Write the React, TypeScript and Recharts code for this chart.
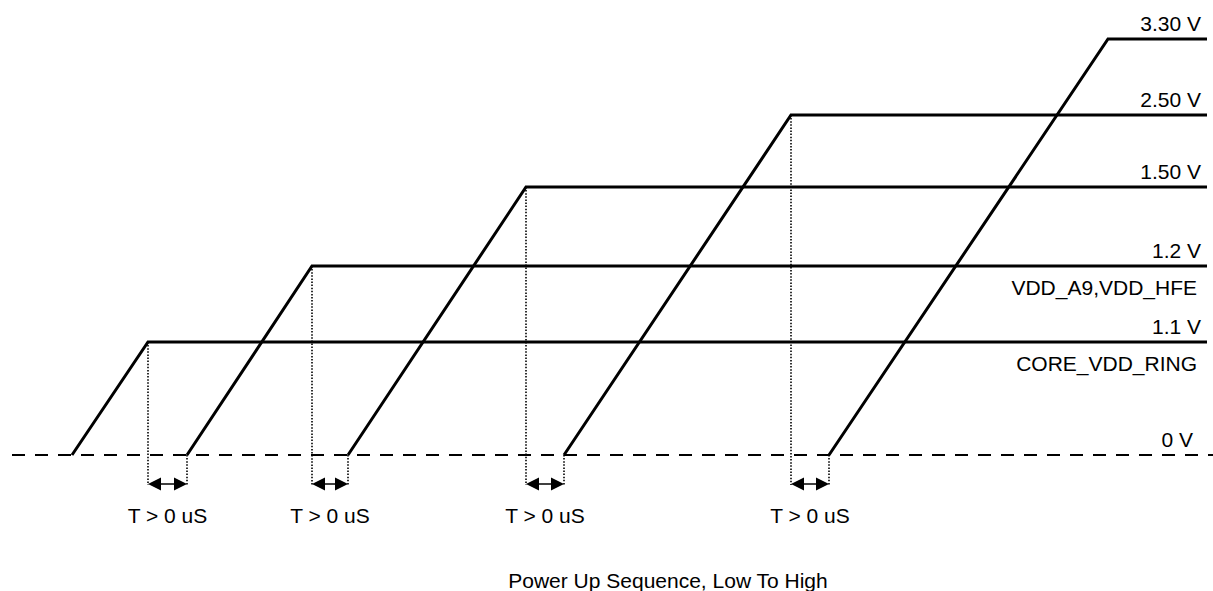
import React from 'react';
import { ComposedChart, Line, XAxis, YAxis, ReferenceLine, ReferenceDot } from 'recharts';

// Power rails, in power-up order (time axis in arbitrary units, level = height above 0 V trace)
const railVoltages = ['1.1 V', '1.2 V', '1.50 V', '2.50 V', '3.30 V'];
const railNames = ['CORE_VDD_RING', 'VDD_A9,VDD_HFE', '', '', ''];
const rampStart = [72, 187, 348, 564, 829];
const rampEnd = [148, 312, 526, 791, 1108];
const railLevel = [113, 189, 268, 340, 416];
const traceEnd = 1207;
const baselineStart = 12;
const baselineLabel = '0 V';
const timingLabels = ['T > 0 uS', 'T > 0 uS', 'T > 0 uS', 'T > 0 uS'];
const title = 'Power Up Sequence, Low To High';

const W = 1213;
const H = 591;
const FONT = '"Liberation Sans", Arial, Helvetica, sans-serif';
const FS = 21;

const railData = railLevel.map((lvl, i) => [
  { t: rampStart[i], v: 0 },
  { t: rampEnd[i], v: lvl },
  { t: traceEnd, v: lvl },
]);

const textShape = (txt: string, anchor: 'start' | 'middle' | 'end') => (p: any) => (
  <text
    x={p.cx}
    y={p.cy}
    textAnchor={anchor}
    dominantBaseline="central"
    fontFamily={FONT}
    fontSize={FS}
    fill="#000"
  >
    {txt}
  </text>
);

const arrowShape = (p: any) => {
  const { x1, y1, x2, y2 } = p;
  const hl = 13;
  const hh = 6.5;
  return (
    <g>
      <line x1={x1 + hl - 1} y1={y1} x2={x2 - hl + 1} y2={y2} stroke="#000" strokeWidth={1.5} />
      <polygon points={`${x1},${y1} ${x1 + hl},${y1 - hh} ${x1 + hl},${y1 + hh}`} fill="#000" />
      <polygon points={`${x2},${y2} ${x2 - hl},${y2 - hh} ${x2 - hl},${y2 + hh}`} fill="#000" />
    </g>
  );
};

export default function App() {
  const labelRight = traceEnd - 6;
  return (
    <div style={{ position: 'absolute', left: 0, top: 0, width: W, height: H, background: '#fff' }}>
      <ComposedChart width={W} height={H} margin={{ top: 0, right: 0, bottom: 0, left: 0 }}>
        <XAxis type="number" dataKey="t" domain={[0, W]} hide allowDataOverflow />
        <YAxis type="number" dataKey="v" domain={[455 - H, 455]} hide allowDataOverflow />

        {/* 0 V dashed baseline */}
        <ReferenceLine
          segment={[{ x: baselineStart, y: 0 }, { x: W, y: 0 }]}
          stroke="#000"
          strokeWidth={2}
          strokeDasharray="13 10"
          ifOverflow="visible"
        />

        {/* dotted timing guides */}
        {rampEnd.slice(0, 4).map((x, i) => (
          <ReferenceLine
            key={`dt${i}`}
            segment={[{ x, y: railLevel[i] }, { x, y: -30 }]}
            stroke="#000"
            strokeWidth={1.6}
            strokeDasharray="1.5 1.6"
            ifOverflow="visible"
          />
        ))}
        {rampStart.slice(1).map((x, i) => (
          <ReferenceLine
            key={`ds${i}`}
            segment={[{ x, y: 0 }, { x, y: -30 }]}
            stroke="#000"
            strokeWidth={1.6}
            strokeDasharray="1.5 1.6"
            ifOverflow="visible"
          />
        ))}

        {/* double-headed arrows */}
        {timingLabels.map((_, i) => (
          <ReferenceLine
            key={`ar${i}`}
            segment={[{ x: rampEnd[i], y: -29 }, { x: rampStart[i + 1], y: -29 }]}
            shape={arrowShape}
            ifOverflow="visible"
          />
        ))}

        {/* rail traces */}
        {railData.map((d, i) => (
          <Line
            key={`rail${i}`}
            data={d}
            dataKey="v"
            type="linear"
            stroke="#000"
            strokeWidth={3}
            strokeLinejoin="miter"
            dot={false}
            activeDot={false}
            isAnimationActive={false}
          />
        ))}

        {/* voltage labels */}
        {railVoltages.map((txt, i) => (
          <ReferenceDot
            key={`vl${i}`}
            x={labelRight}
            y={railLevel[i] + 16}
            r={0}
            ifOverflow="visible"
            shape={textShape(txt, 'end')}
          />
        ))}
        {railNames.map((txt, i) =>
          txt ? (
            <ReferenceDot
              key={`nl${i}`}
              x={labelRight - 4}
              y={railLevel[i] - 21}
              r={0}
              ifOverflow="visible"
              shape={textShape(txt, 'end')}
            />
          ) : null
        )}
        <ReferenceDot
          x={labelRight - 8}
          y={16}
          r={0}
          ifOverflow="visible"
          shape={textShape(baselineLabel, 'end')}
        />

        {/* timing labels */}
        {timingLabels.map((txt, i) => (
          <ReferenceDot
            key={`tl${i}`}
            x={(rampEnd[i] + rampStart[i + 1]) / 2}
            y={-60}
            r={0}
            ifOverflow="visible"
            shape={textShape(txt, 'middle')}
          />
        ))}

        {/* caption */}
        <ReferenceDot x={668} y={-125} r={0} ifOverflow="visible" shape={textShape(title, 'middle')} />
      </ComposedChart>
    </div>
  );
}
